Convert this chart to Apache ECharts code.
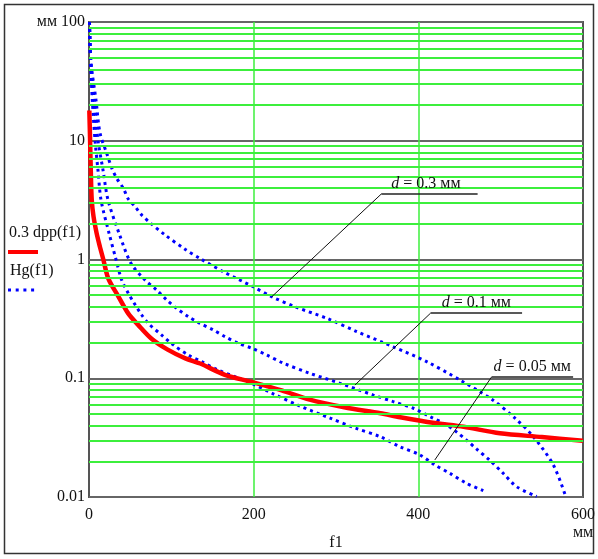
<!DOCTYPE html>
<html>
<head>
<meta charset="utf-8">
<script src="https://cdn.jsdelivr.net/npm/echarts@6/dist/echarts.min.js"></script>
<style>
  html, body { margin: 0; padding: 0; background: #fff; }
  #chart { width: 598px; height: 559px; }
</style>
</head>
<body>
<div id="chart"></div>
<script>
// tick values and labels
const xTicks = [0, 200, 400, 600];
const xTickLabels = ['0', '200', '400', '600'];
const yTicks = [0.01, 0.1, 1, 10, 100];
const yTickLabels = ['0.01', '0.1', '1', '10', 'мм 100'];
const decades = [0.01, 0.1, 1, 10];
const minorSteps = [2, 3, 4, 5, 6, 7, 8, 9];

// 0.3 dpp(f1) - red solid
const redF1 = [0.4, 1.2, 2.2, 3.3, 5.5, 9.3, 13, 17.4, 23.5, 35.6, 47.8, 60, 76, 95, 117, 135, 165, 198, 234, 268, 310, 354, 378, 420, 455, 499, 550, 600];
const redVal = [18, 11, 5.5, 3.2, 2.3, 1.66, 1.3, 1.0, 0.69, 0.49, 0.35, 0.28, 0.215, 0.175, 0.147, 0.133, 0.107, 0.093, 0.079, 0.066, 0.057, 0.0507, 0.047, 0.042, 0.039, 0.0344, 0.032, 0.0297];

// Hg(f1), d = 0.05 мм
const hg005F1 = [0.6, 1.8, 4.0, 7.3, 10.9, 14.6, 24.3, 32.8, 39.7, 47.7, 53.8, 64, 72, 88.3, 102.4, 120.6, 136.9, 157, 177.3, 197.6, 221.9, 256.3, 292.7, 323.1, 353.5, 377.7, 402, 420.2, 438.5, 458.8, 478.9];
const hg005Val = [100, 48, 22, 10.1, 5.67, 3.17, 1.67, 1.0, 0.672, 0.519, 0.441, 0.341, 0.290, 0.231, 0.191, 0.157, 0.138, 0.117, 0.103, 0.0905, 0.075, 0.0583, 0.0462, 0.0381, 0.0322, 0.0265, 0.0226, 0.0186, 0.0158, 0.0130, 0.0113];

// Hg(f1), d = 0.1 мм
const hg01F1 = [0.6, 2.2, 6.1, 10.9, 17.0, 23.1, 36.4, 51.0, 68.0, 82.2, 94.4, 106.5, 120.6, 134.8, 151.0, 165.2, 181.3, 197.6, 215.8, 236.0, 268.4, 304.9, 345.3, 369.6, 393.9, 414.2, 434.5, 446.6, 458.8, 470.9, 487.1, 503.2, 519.5, 543.8];
const hg01Val = [100, 48, 22, 10.1, 5.67, 3.17, 1.67, 0.929, 0.672, 0.553, 0.456, 0.388, 0.330, 0.290, 0.255, 0.224, 0.197, 0.179, 0.157, 0.134, 0.110, 0.0906, 0.0722, 0.0635, 0.0559, 0.0475, 0.0404, 0.0352, 0.0300, 0.0253, 0.0203, 0.0158, 0.0122, 0.0101];

// Hg(f1), d = 0.3 мм
const hg03F1 = [0.6, 2.0, 8.5, 13.4, 22.2, 27.6, 33.6, 41.7, 47.7, 55.9, 64, 74.1, 92.3, 116.6, 134.8, 163.1, 197.6, 221.9, 252.3, 288.7, 325.2, 369.6, 410.2, 450.6, 489.1, 517.4, 539.7, 564, 579];
const hg03Val = [100, 48, 22, 11.6, 7.6, 5.9, 4.83, 3.98, 3.23, 2.79, 2.37, 2.04, 1.61, 1.22, 1.02, 0.789, 0.598, 0.486, 0.395, 0.320, 0.247, 0.184, 0.138, 0.0966, 0.0665, 0.0461, 0.0322, 0.0186, 0.0101];

// callouts: label, curve point, knee and end of the underline (data coords)
const notes = [
  { d: '0.3', tip: [222, 0.486], knee: [355, 3.56], end: [472, 3.56], dx: 10 },
  { d: '0.1', tip: [323, 0.0877], knee: [415, 0.354], end: [526, 0.354], dx: 11 },
  { d: '0.05', tip: [420, 0.0205], knee: [489, 0.1026], end: [588, 0.1026], dx: 2 }
];

const FONT = 'Liberation Serif';
const GREEN = '#3cef3c';
const BLUE = '#0000ff';

function pairs(xs, ys) {
  return xs.map((x, i) => [x, ys[i]]);
}

const minorLines = [];
decades.forEach(d => minorSteps.forEach(m => minorLines.push({ yAxis: d * m })));

const dotted = {
  color: BLUE,
  width: 3,
  type: [3, 4],
  cap: 'butt'
};

const chart = echarts.init(document.getElementById('chart'), null, { renderer: 'canvas' });

chart.setOption({
  animation: false,
  backgroundColor: '#fff',
  grid: {
    left: 89, top: 22, right: 15, bottom: 62,
    show: true, borderColor: '#555', borderWidth: 2, backgroundColor: 'transparent'
  },
  xAxis: {
    type: 'value',
    min: 0, max: 600, interval: 200,
    name: 'f1',
    nameLocation: 'middle',
    nameGap: 38,
    nameTextStyle: { fontFamily: FONT, fontSize: 16, color: '#111' },
    axisLine: { show: false },
    axisTick: { show: false },
    axisLabel: {
      margin: 10,
      fontFamily: FONT, fontSize: 16, color: '#111',
      formatter: v => xTickLabels[xTicks.indexOf(v)] ?? ''
    },
    splitLine: {
      show: true, showMinLine: false, showMaxLine: false,
      lineStyle: { color: GREEN, width: 1.5 }
    }
  },
  yAxis: {
    type: 'log',
    logBase: 10,
    min: 0.01, max: 100,
    axisLine: { show: false },
    axisTick: { show: false },
    axisLabel: {
      margin: 4,
      fontFamily: FONT, fontSize: 16, color: '#111',
      formatter: v => {
        const k = Math.round(Math.log10(v));
        const i = yTicks.findIndex(t => Math.round(Math.log10(t)) === k);
        return i >= 0 ? yTickLabels[i] : '';
      }
    },
    splitLine: { show: true, lineStyle: { color: '#666', width: 2 } }
  },
  series: [
    {
      type: 'line',
      data: [],
      z: 1,
      silent: true,
      markLine: {
        silent: true,
        symbol: 'none',
        label: { show: false },
        lineStyle: { color: GREEN, width: 2, type: 'solid' },
        data: minorLines
      }
    },
    {
      name: 'Hg d=0.05',
      type: 'line',
      data: pairs(hg005F1, hg005Val),
      showSymbol: false,
      smooth: 0.3,
      lineStyle: dotted,
      z: 3
    },
    {
      name: 'Hg d=0.1',
      type: 'line',
      data: pairs(hg01F1, hg01Val),
      showSymbol: false,
      smooth: 0.3,
      lineStyle: dotted,
      z: 3
    },
    {
      name: 'Hg d=0.3',
      type: 'line',
      data: pairs(hg03F1, hg03Val),
      showSymbol: false,
      smooth: 0.3,
      lineStyle: dotted,
      z: 3
    },
    {
      name: '0.3 dpp(f1)',
      type: 'line',
      data: pairs(redF1, redVal),
      showSymbol: false,
      smooth: 0.3,
      lineStyle: { color: '#ff0000', width: 4.5 },
      z: 4
    }
  ]
});

// static decorations: frame, left legend, unit under x axis
const graphics = [
  { type: 'rect', shape: { x: 4.5, y: 4.5, width: 589, height: 549 }, style: { fill: null, stroke: '#333', lineWidth: 1.5 }, silent: true },
  { type: 'text', x: 9, y: 233, style: { text: '0.3 dpp(f1)', fontFamily: FONT, fontSize: 16, fill: '#111', verticalAlign: 'middle' } },
  { type: 'line', shape: { x1: 8, y1: 252, x2: 38, y2: 252 }, style: { stroke: '#ff0000', lineWidth: 4 } },
  { type: 'text', x: 10, y: 271, style: { text: 'Hg(f1)', fontFamily: FONT, fontSize: 16, fill: '#111', verticalAlign: 'middle' } },
  { type: 'line', shape: { x1: 8, y1: 290, x2: 35, y2: 290 }, style: { stroke: BLUE, lineWidth: 3, lineDash: [3, 4.7] } },
  { type: 'text', x: 583, y: 533, style: { text: 'мм', fontFamily: FONT, fontSize: 16, fill: '#111', align: 'center', verticalAlign: 'middle' } }
];

notes.forEach(n => {
  const tip = chart.convertToPixel({ gridIndex: 0 }, n.tip);
  const knee = chart.convertToPixel({ gridIndex: 0 }, n.knee);
  const end = chart.convertToPixel({ gridIndex: 0 }, n.end);
  graphics.push({
    type: 'line', z: 10,
    shape: { x1: tip[0], y1: tip[1], x2: knee[0], y2: knee[1] },
    style: { stroke: '#111', lineWidth: 1 }
  });
  graphics.push({
    type: 'line', z: 10,
    shape: { x1: knee[0], y1: knee[1], x2: end[0], y2: end[1] },
    style: { stroke: '#222', lineWidth: 1.5 }
  });
  graphics.push({
    type: 'text', z: 10,
    x: knee[0] + n.dx, y: knee[1] - 2,
    style: {
      text: '{i|d}{n| = ' + n.d + ' мм}',
      verticalAlign: 'bottom',
      rich: {
        i: { fontFamily: FONT, fontSize: 16, fontStyle: 'italic', fill: '#111' },
        n: { fontFamily: FONT, fontSize: 16, fill: '#111' }
      }
    }
  });
});

chart.setOption({ graphic: graphics });
</script>
</body>
</html>
